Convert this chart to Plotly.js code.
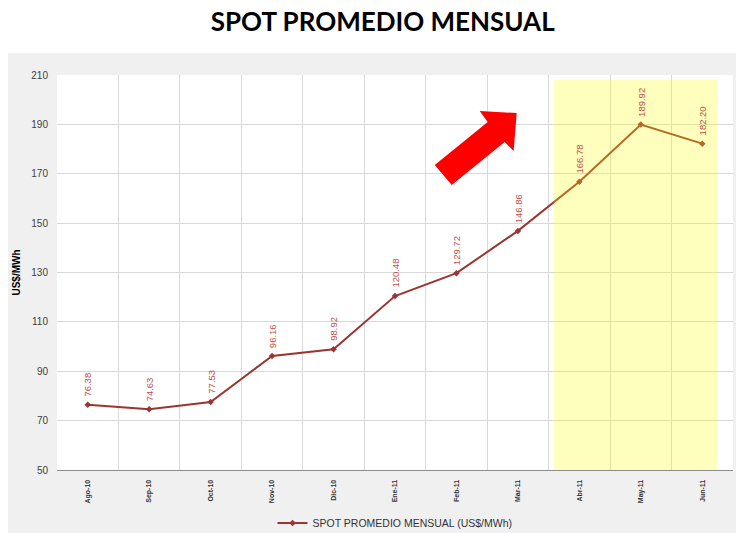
<!DOCTYPE html>
<html>
<head>
<meta charset="utf-8">
<script src="https://cdn.plot.ly/plotly-3.0.1.min.js"></script>
<style>html,body{margin:0;padding:0;background:#fff;}#chart{width:736px;height:533px;}</style>
</head>
<body>
<div id="chart"></div>
<script>
const months = ["Ago-10","Sep-10","Oct-10","Nov-10","Dic-10","Ene-11","Feb-11","Mar-11","Abr-11","May-11","Jun-11"];
const spot = [76.38, 74.63, 77.53, 96.16, 98.92, 120.48, 129.72, 146.86, 166.78, 189.92, 182.20];
const yTicks = [50, 70, 90, 110, 130, 150, 170, 190, 210];
const seriesName = "SPOT PROMEDIO MENSUAL (US$/MWh)";

// plot area in pixels (used only for decoration placement)
const L = 57, R = 733.5, T = 75, B = 470;
const px = x => (x - L) / (R - L);
const py = y => (B - y) / (B - T);

const arrowPts = [[435,165],[488,122],[480,111],[517,113],[514,151],[505,142],[452,185]];
const arrowPath = 'M' + arrowPts.map(p => px(p[0]).toFixed(4) + ',' + py(p[1]).toFixed(4)).join(' L') + ' Z';

const trace = {
  x: months, y: spot, type: 'scatter', mode: 'lines+markers', name: seriesName,
  line: {color: '#9b3532', width: 2},
  marker: {symbol: 'diamond', size: 5, color: '#9b3532'},
  hoverinfo: 'x+y'
};

const labels = spot.map((v, i) => ({
  x: months[i], y: v, xref: 'x', yref: 'y', text: v.toFixed(2), showarrow: false,
  textangle: -90, xanchor: 'center', yanchor: 'bottom', yshift: 6,
  font: {family: 'Liberation Sans, Arial, sans-serif', size: 9.5, color: '#c0504d'}
}));

const layout = {
  width: 736, height: 533,
  margin: {l: L, r: 736 - R, t: T, b: 533 - B},
  paper_bgcolor: '#ffffff', plot_bgcolor: 'rgba(0,0,0,0)',
  title: {text: 'SPOT PROMEDIO MENSUAL', x: 0.52, xanchor: 'center', y: 0.958, yanchor: 'middle',
          font: {family: 'Lato, Open Sans, sans-serif', size: 26, color: '#000', weight: 700}},
  showlegend: true,
  legend: {orientation: 'h', x: 0.5, xanchor: 'center', yref: 'container', y: 1 - 523/533, yanchor: 'middle',
           font: {family: 'Liberation Sans, Arial, sans-serif', size: 10.5, color: '#333'}, bgcolor: 'rgba(0,0,0,0)'},
  xaxis: {
    type: 'category', range: [-0.5, 10.5], tickson: 'boundaries', ticks: '',
    showgrid: true, gridcolor: '#d9d9d9', gridwidth: 1,
    showline: true, linecolor: '#8c8c8c', linewidth: 1,
    tickangle: -90, tickfont: {family: 'Liberation Sans, Arial, sans-serif', size: 7, color: '#333', weight: 700},
    ticklabelstandoff: 6, fixedrange: true
  },
  yaxis: {
    range: [50, 210], tickvals: yTicks, ticktext: yTicks.map(String),
    showgrid: true, gridcolor: '#d9d9d9', gridwidth: 1, zeroline: false,
    showline: false, ticks: '',
    tickfont: {family: 'Liberation Sans, Arial, sans-serif', size: 10, color: '#404040'},
    ticklabelstandoff: 8,
    title: {text: 'US$/MWh', standoff: 8, font: {family: 'Liberation Sans, Arial, sans-serif', size: 10, color: '#000', weight: 700}},
    fixedrange: true
  },
  shapes: [
    {type: 'rect', xref: 'paper', yref: 'paper', x0: px(8), x1: 1.2, y0: -0.4, y1: py(53),
     fillcolor: '#f0f0f0', line: {width: 0}, layer: 'below'},
    {type: 'rect', xref: 'paper', yref: 'paper', x0: 0, x1: 1, y0: 0, y1: 1,
     fillcolor: '#ffffff', line: {width: 0}, layer: 'below'},
    {type: 'rect', xref: 'x', yref: 'y', x0: 7.58, x1: 10.24, y0: 50, y1: 208,
     fillcolor: 'rgb(255,255,0)', opacity: 0.26, line: {width: 0}, layer: 'above'},
    {type: 'path', xref: 'paper', yref: 'paper', path: arrowPath,
     fillcolor: '#ff0000', line: {width: 0}, layer: 'above'}
  ],
  annotations: labels
};

Plotly.newPlot('chart', [trace], layout, {displayModeBar: false, staticPlot: true});
</script>
</body>
</html>
